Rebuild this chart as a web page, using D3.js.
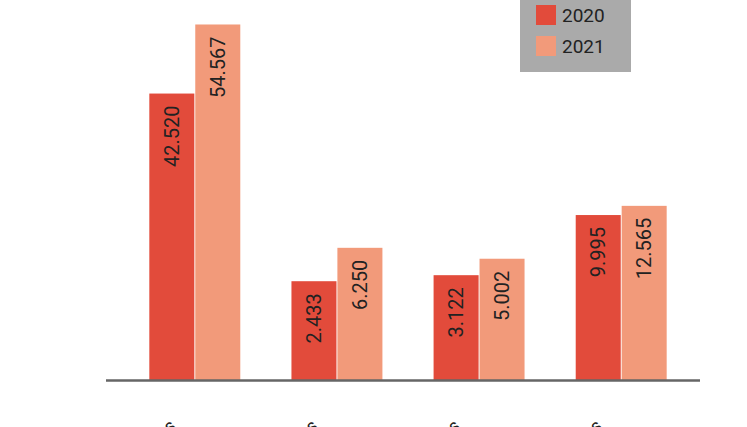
<!DOCTYPE html><html><head><meta charset="utf-8"><script src="https://cdn.jsdelivr.net/npm/d3@7"></script>
<style>body{margin:0;background:#fff}svg{display:block}</style></head><body><svg width="747" height="427"></svg>
<script>
const categories=["Total turistas","Servicios turísticos","Alojamientos","Trabajadores extranjeros"];
const series=["2020","2021"];
const values2020=[42.520,2.433,3.122,9.995];
const values2021=[54.567,6.250,5.002,12.565];
const labels2020=["42.520","2.433","3.122","9.995"];
const labels2021=["54.567","6.250","5.002","12.565"];
const colors=["#e24b3b","#f29a7a"];
const svg=d3.select("svg");
const base=380;
const x0=d3.scaleBand().domain(categories).range([128,688]).paddingInner(0.36).paddingOuter(0.15);
const x1=d3.scaleBand().domain(series).range([0,x0.bandwidth()]).paddingInner(0.02);
const H=d3.scaleLinear().domain([0,2,10,40,55]).range([0,95,165,272,358]);
const data=categories.map((c,i)=>({c,vals:[{s:"2020",v:values2020[i],l:labels2020[i]},{s:"2021",v:values2021[i],l:labels2021[i]}]}));
const g=svg.selectAll("g.grp").data(data).enter().append("g").attr("transform",d=>`translate(${x0(d.c)},0)`);
g.selectAll("rect").data(d=>d.vals).enter().append("rect")
 .attr("x",d=>x1(d.s)).attr("width",x1.bandwidth()).attr("y",d=>base-H(d.v)).attr("height",d=>H(d.v))
 .attr("fill",(d,i)=>colors[i]);
g.selectAll("text.v").data(d=>d.vals).enter().append("text")
 .attr("transform",d=>`translate(${x1(d.s)+x1.bandwidth()/2+7},${base-H(d.v)+12}) rotate(-90)`)
 .attr("text-anchor","end").attr("font-family","Roboto, sans-serif").attr("font-size",20).attr("fill","#222").text(d=>d.l);
svg.append("line").attr("x1",106).attr("x2",700).attr("y1",base+0.5).attr("y2",base+0.5).attr("stroke","#666").attr("stroke-width",2.5);
svg.selectAll("text.c").data(categories).enter().append("text")
 .attr("transform",d=>`translate(${x0(d)+x0.bandwidth()/2-18},${base+48}) rotate(-38)`)
 .attr("text-anchor","end").attr("font-family","Roboto, sans-serif").attr("font-size",18).attr("fill","#222").text(d=>d);
svg.append("rect").attr("x",520).attr("y",-2).attr("width",111).attr("height",74).attr("fill","#aaaaaa");
const lg=svg.selectAll("g.lg").data(series).enter().append("g").attr("transform",(d,i)=>`translate(536,${5+i*31})`);
lg.append("rect").attr("width",20).attr("height",20).attr("fill",(d,i)=>colors[i]);
lg.append("text").attr("x",26).attr("y",17).attr("font-family","Roboto, sans-serif").attr("font-size",19).attr("fill","#222").text(d=>d);
</script></body></html>
